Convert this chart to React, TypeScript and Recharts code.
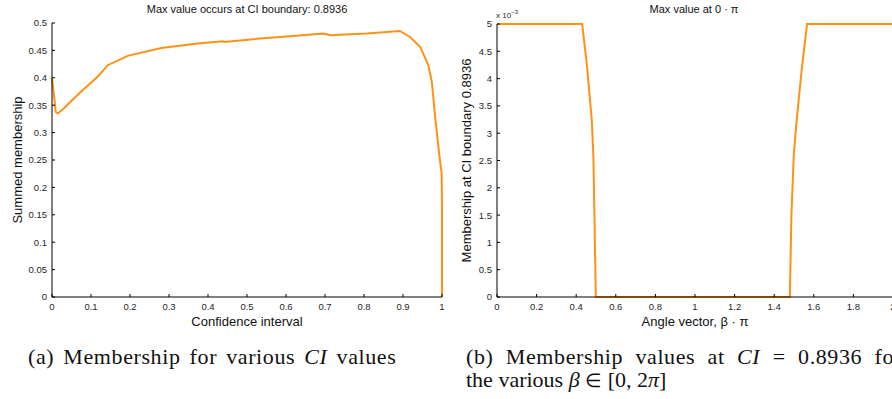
import { LineChart, Line, XAxis, YAxis } from "recharts";

// (a) summed membership vs confidence interval
const ciX = [0, 0.006, 0.0095, 0.0146, 0.03, 0.074, 0.117, 0.143, 0.194, 0.28, 0.353, 0.374, 0.439, 0.441, 0.533, 0.61, 0.696, 0.713, 0.807, 0.892, 0.918, 0.944, 0.965, 0.974, 0.982, 0.993, 0.999, 1.0, 1.0];
const ciY = [0.399, 0.3625, 0.338, 0.335, 0.344, 0.3745, 0.402, 0.423, 0.44, 0.4545, 0.4607, 0.4625, 0.4667, 0.4655, 0.4716, 0.4758, 0.4807, 0.4776, 0.4807, 0.4855, 0.4745, 0.4564, 0.423, 0.3927, 0.332, 0.2595, 0.226, 0.165, 0];

// (b) membership at CI boundary vs angle (beta * pi)
const betaX = [0, 0.43, 0.454, 0.479, 0.487, 0.492, 0.499, 1.479, 1.487, 1.499, 1.513, 1.538, 1.566, 2];
const betaY = [0.005, 0.005, 0.00425, 0.00322, 0.00255, 0.00151, 0, 0, 0.00151, 0.00261, 0.00322, 0.00413, 0.005, 0.005];

const ciTicks = [0, 0.1, 0.2, 0.3, 0.4, 0.5, 0.6, 0.7, 0.8, 0.9, 1];
const memTicks = [0, 0.05, 0.1, 0.15, 0.2, 0.25, 0.3, 0.35, 0.4, 0.45, 0.5];
const betaTicks = [0, 0.2, 0.4, 0.6, 0.8, 1, 1.2, 1.4, 1.6, 1.8, 2];
const smallTicks = [0, 0.0005, 0.001, 0.0015, 0.002, 0.0025, 0.003, 0.0035, 0.004, 0.0045, 0.005];

const dataA = ciX.map((x, i) => ({ x, y: ciY[i] }));
const dataB = betaX.map((x, i) => ({ x, y: betaY[i] }));

const FONT = "'Liberation Sans', Arial, Helvetica, sans-serif";
const SERIF = "'Liberation Serif', 'Times New Roman', serif";
const ORANGE = "#ff9216";
const TICK_COLOR = "#262626";

// MATLAB style: tick marks point into the plot
function bottomTick(fmt: (v: number) => string) {
  return (p: any) => {
    const { x, y, payload } = p;
    return (
      <g>
        <line x1={x} y1={y} x2={x} y2={y - 3} stroke="#000" />
        <text x={x} y={y + 13} textAnchor="middle" fontSize={9.5} fill={TICK_COLOR} fontFamily={FONT}>
          {fmt(payload.value)}
        </text>
      </g>
    );
  };
}

function leftTick(fmt: (v: number) => string) {
  return (p: any) => {
    const { x, y, payload } = p;
    return (
      <g>
        <line x1={x} y1={y} x2={x + 3} y2={y} stroke="#000" />
        <text x={x - 5} y={y + 3.4} textAnchor="end" fontSize={9.5} fill={TICK_COLOR} fontFamily={FONT}>
          {fmt(payload.value)}
        </text>
      </g>
    );
  };
}

const plain = (v: number) => String(v);
const milli = (v: number) => String(Math.round(v * 10000) / 10);

function xLabel(text: string) {
  return (p: any) => {
    const vb = p.viewBox;
    return (
      <text x={vb.x + vb.width / 2} y={vb.y + 29} textAnchor="middle" fontSize={13} fill="#111" fontFamily={FONT}>
        {text}
      </text>
    );
  };
}

function yLabel(text: string, cx: number) {
  return (p: any) => {
    const vb = p.viewBox;
    const cy = vb.y + vb.height / 2;
    return (
      <text x={cx} y={cy} transform={`rotate(-90 ${cx} ${cy})`} textAnchor="middle" dominantBaseline="central"
        fontSize={13} fill="#111" fontFamily={FONT}>
        {text}
      </text>
    );
  };
}

const captionStyle = {
  fontFamily: SERIF,
  fontSize: 22,
  lineHeight: "23px",
  color: "#111",
};

export default function App() {
  return (
    <div style={{ position: "absolute", left: 0, top: 0, width: 892, height: 399, overflow: "hidden", background: "#fff" }}>
      {/* left panel */}
      <div style={{ position: "absolute", left: 0, top: 0 }}>
        <LineChart width={460} height={340} data={dataA} margin={{ top: 23, right: 18, bottom: 0, left: 0 }}>
          <XAxis dataKey="x" type="number" domain={[0, 1]} ticks={ciTicks} interval={0}
            tickSize={0} tickMargin={0} tickLine={false} axisLine={{ stroke: "#000" }}
            tick={bottomTick(plain)} height={43} label={{ content: xLabel("Confidence interval") }} />
          <YAxis dataKey="y" type="number" domain={[0, 0.5]} ticks={memTicks} interval={0}
            tickSize={0} tickMargin={0} tickLine={false} axisLine={{ stroke: "#000" }}
            tick={leftTick(plain)} width={52} label={{ content: yLabel("Summed membership", 17) }} />
          <Line dataKey="y" type="linear" stroke={ORANGE} strokeWidth={2} dot={false} isAnimationActive={false} />
        </LineChart>
      </div>

      {/* right panel */}
      <div style={{ position: "absolute", left: 444, top: 0 }}>
        <LineChart width={469} height={340} data={dataB} margin={{ top: 24, right: 20, bottom: 0, left: 0 }}>
          <XAxis dataKey="x" type="number" domain={[0, 2]} ticks={betaTicks} interval={0}
            tickSize={0} tickMargin={0} tickLine={false} axisLine={{ stroke: "#000" }}
            tick={bottomTick(plain)} height={43} label={{ content: xLabel("Angle vector, β · π") }} />
          <YAxis dataKey="y" type="number" domain={[0, 0.005]} ticks={smallTicks} interval={0}
            tickSize={0} tickMargin={0} tickLine={false} axisLine={{ stroke: "#000" }}
            tick={leftTick(milli)} width={53} label={{ content: yLabel("Membership at CI boundary 0.8936", 22) }} />
          <Line dataKey="y" type="linear" stroke={ORANGE} strokeWidth={2} dot={false} isAnimationActive={false} />
        </LineChart>
      </div>

      {/* titles and exponent marker */}
      <svg width={892} height={40} style={{ position: "absolute", left: 0, top: 0, pointerEvents: "none" }}>
        <text x={247} y={12.5} textAnchor="middle" fontSize={11} fill="#111" fontFamily={FONT}>
          Max value occurs at CI boundary: 0.8936
        </text>
        <text x={694} y={12.5} textAnchor="middle" fontSize={11} fill="#111" fontFamily={FONT}>
          Max value at 0 · π
        </text>
        <text x={496} y={18} fontSize={8} fill={TICK_COLOR} fontFamily={FONT}>
          x 10<tspan dy={-4} fontSize={6}>−3</tspan>
        </text>
      </svg>

      {/* sub-figure captions */}
      <div style={{ ...captionStyle, position: "absolute", left: 28, top: 344.5, whiteSpace: "nowrap", letterSpacing: 0.6, wordSpacing: 3 }}>
        (a) Membership for various <i>CI</i> values
      </div>
      <div style={{ ...captionStyle, position: "absolute", left: 466, top: 344.5, width: 436 }}>
        <div style={{ textAlign: "justify", textAlignLast: "justify", whiteSpace: "nowrap", letterSpacing: 0.6 }}>
          (b) Membership values at <i>CI</i> = 0.8936 for
        </div>
        <div style={{ whiteSpace: "nowrap" }}>
          the various <i>β</i> <span style={{ fontSize: 19 }}>∈</span> [0, 2<i>π</i>]
        </div>
      </div>
    </div>
  );
}
